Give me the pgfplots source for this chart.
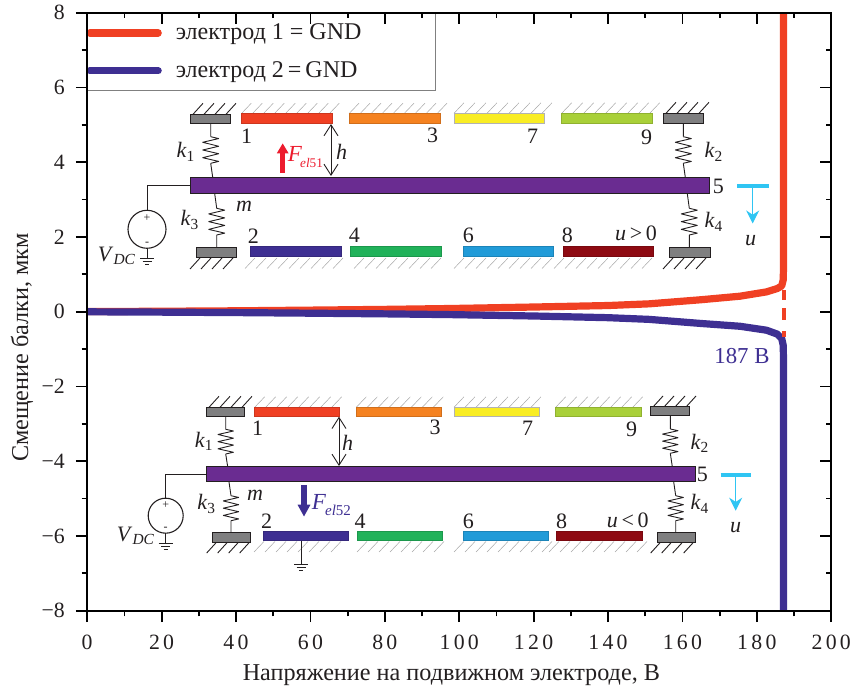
\documentclass[border=0pt]{standalone}
\usepackage{fontspec}
\setmainfont{Liberation Serif}
\usepackage{pgfplots}
\pgfplotsset{compat=1.18}
\usetikzlibrary{arrows.meta}
\definecolor{cred}{HTML}{F04023}
\definecolor{cblue}{HTML}{3E2F92}
\definecolor{cbeam}{HTML}{6A2C91}
\definecolor{corange}{HTML}{F58220}
\definecolor{cyellow}{HTML}{F9ED24}
\definecolor{clime}{HTML}{A9D039}
\definecolor{cgreen}{HTML}{21B25A}
\definecolor{csky}{HTML}{219BD8}
\definecolor{cdark}{HTML}{8E0A12}
\definecolor{cgray}{HTML}{7F7F80}
\definecolor{ccyan}{HTML}{2FC5F3}
\definecolor{ctxt}{HTML}{231F20}
\definecolor{cfred}{HTML}{ED1C2E}
\newcommand\lab[2]{\textit{#1}\textsubscript{#2}}
\newcommand\Fel[3]{{\fontsize{11.5}{13}\selectfont\textit{F}}\kern#2\raisebox{-.55ex}{\fontsize{#3}{8}\selectfont\textit{el}#1}}
% electrode: x0 x1 y0 y1 colour
\newcommand\elec[5]{\fill[#5,draw=#5!85!black,line width=.25pt] (#1,#3) rectangle (#2,#4);}
% light hatch
\newcommand\hatchup[3]{\foreach \q in {0,1,...,#3}{\draw[gray!70,line width=.25pt] ({#1+11*\q},#2) -- ({#1+11*\q+10},{#2-10.5});}}
\newcommand\blk[4]{\fill[cgray,draw=ctxt,line width=.5pt] (#1,#3) rectangle (#2,#4);}
\newcommand\blackhatch[3]{\foreach \q in {0,1,2,3}{\draw[ctxt,line width=.45pt] ({#1+11*\q},#2) -- ({#1+11*\q+10},{#2-11});}}
% spring: x y0 y1 amp
\newcommand\spring[4]{\draw[ctxt,line width=.45pt,line join=round]
 (#1,#2) -- ({#1+#4},{#2+(#3-#2)*0.07}) -- ({#1-#4},{#2+(#3-#2)*0.21}) -- ({#1+#4},{#2+(#3-#2)*0.36}) -- ({#1-#4},{#2+(#3-#2)*0.50}) -- ({#1+#4},{#2+(#3-#2)*0.64}) -- ({#1-#4},{#2+(#3-#2)*0.79}) -- ({#1+#4},{#2+(#3-#2)*0.93}) -- (#1,#3);}
\newcommand\gnd[2]{\draw[ctxt,line width=.45pt] ({#1-7},#2) -- ({#1+7},#2) ({#1-4.5},{#2+3.3}) -- ({#1+4.5},{#2+3.3}) ({#1-2},{#2+6.6}) -- ({#1+2},{#2+6.6});}
\newcommand\sz{\fontsize{11}{13}\selectfont}
\begin{document}
\begin{tikzpicture}
\path[use as bounding box] (0pt,0pt) rectangle (425pt,345pt);
\begin{axis}[
 at={(43.6pt,39.65pt)},anchor=south west,scale only axis,
 width=372pt,height=299pt,
 xmin=0,xmax=200,ymin=-8,ymax=8,
 xtick={0,20,...,200},
 xticklabels={0,20,40,60,80,100,120,140,160,180,200},
 ytick={-8,-6,...,8},
 yticklabels={−8,−6,−4,−2,0,2,4,6,8},
 minor x tick num=1,minor y tick num=1,
 tick align=outside,tick pos=left,
 major tick length=5.7pt,minor tick length=2.8pt,
 axis line style={line width=1pt},
 every tick/.style={line width=.9pt,black},
 minor tick style={line width=.9pt,black},
 tick label style={font=\fontsize{10.9}{12}\selectfont,text=ctxt},
 xticklabel style={font=\fontsize{10.9}{12}\selectfont\addfontfeatures{LetterSpace=15}},
 xticklabel shift=3pt,yticklabel shift=2pt,
 xlabel={Напряжение на подвижном электроде, В},
 ylabel={Смещение балки, мкм},
 label style={font=\fontsize{12.1}{14}\selectfont,text=ctxt},
 xlabel style={at={(axis description cs:0.4895,0)},anchor=base,yshift=-35pt},
 ylabel style={at={(axis description cs:0,0.44)},anchor=base,rotate=0,yshift=29.5pt},
 legend style={at={(0,1)},anchor=north west,draw=gray,line width=.4pt,fill=white,
   inner xsep=0pt,inner ysep=3.2pt,row sep=5.5pt,xshift=-.7pt,
   font=\fontsize{12}{14}\selectfont,text=ctxt},
 legend cell align=left,
 legend image code/.code={\draw[#1,line cap=round] (2pt,0pt) -- (36.2pt,0pt);},
]
\addplot[cred,line width=3.6pt,line join=round] coordinates {
 (0,0.003)(20,0.012)(40,0.024)(60,0.042)(80,0.062)(97.6,0.085)(120,0.125)(140,0.165)(151,0.21)(165,0.32)(175.5,0.415)(182.6,0.53)(185.5,0.62)(186.7,0.69)(187.1,0.85)(187.2,1.3)(187.2,8)};
\addlegendentry{\makebox[133pt][l]{\hspace*{5pt}электрод 1 = GND}}
\addplot[cblue,line width=3.6pt,line join=round] coordinates {
 (0,-0.003)(20,-0.012)(40,-0.024)(60,-0.04)(80,-0.058)(97.6,-0.078)(120,-0.115)(140,-0.16)(151,-0.205)(165,-0.315)(175.5,-0.39)(182.6,-0.495)(185.5,-0.6)(186.7,-0.72)(187.1,-0.9)(187.2,-1.4)(187.2,-8)};
\addlegendentry{\makebox[133pt][l]{\hspace*{5pt}электрод 2\,=\,GND}}
\addplot[cred,line width=2pt,dash pattern=on 5pt off 4pt on 6pt off 5.5pt on 3.5pt off 20pt,forget plot] coordinates {(187.2,0.58)(187.2,-0.68)};
\end{axis}
\begin{axis}[
 at={(43.6pt,39.65pt)},anchor=south west,scale only axis,
 width=372pt,height=299pt,
 xmin=0,xmax=200,ymin=-8,ymax=8,
 xtick={0,20,...,200},ytick={-8,-6,...,8},
 xticklabels={},yticklabels={},
 minor x tick num=1,minor y tick num=1,
 tick align=inside,tick pos=right,
 major tick length=5.7pt,minor tick length=2.8pt,
 axis line style={line width=1pt},
 every tick/.style={line width=.9pt,black},
 minor tick style={line width=.9pt,black},
]
\end{axis}
\begin{scope}[x=0.5pt,y=-0.5pt,yshift=345pt,every node/.style={font=\sz,text=ctxt,inner sep=0pt}]
%%%% upper schematic
\hatchup{241.3}{113.7}{8} \hatchup{349}{113.7}{8} \hatchup{454}{113.3}{8} \hatchup{561.7}{113.3}{8}
\hatchup{245}{268.5}{8} \hatchup{354}{268.5}{7} \hatchup{454}{268.5}{8} \hatchup{554}{268.5}{8}
\blackhatch{193}{114.3}{} \blackhatch{666}{113.3}{}
\blackhatch{190}{269}{} \blackhatch{663}{269}{}
\elec{241.3}{332}{113.7}{123.3}{cred}
\elec{349}{440}{113.7}{123.3}{corange}
\fill[cyellow,draw=gray!60,line width=.25pt] (454,113.3) rectangle (544.7,123.3);
\elec{561.7}{652.7}{113.3}{123.3}{clime}
\blk{190}{230.7}{114.3}{124} \blk{663}{703.3}{113.3}{123.3}
\elec{250.7}{341.3}{246.3}{256}{cblue}
\elec{350}{441}{246.3}{256}{cgreen}
\elec{463}{553.7}{246.3}{256}{csky}
\elec{563}{653.7}{246.3}{256}{cdark}
\blk{196.3}{236.7}{247.3}{257.3} \blk{669.3}{710}{247.7}{257.7}
\spring{210.7}{136.7}{163.3}{8}
\draw[ctxt,line width=.45pt] (210.7,124) -- (210.7,136.7) (210.7,163.3) -- (212.7,177.3);
\spring{216.7}{208.3}{235}{8}
\draw[ctxt,line width=.45pt] (214.7,193.7) -- (216.7,208.3) (216.7,235) -- (216.7,247.3);
\spring{683.3}{136.7}{163.3}{8}
\draw[ctxt,line width=.45pt] (683.3,123.3) -- (683.3,136.7) (683.3,163.3) -- (685.3,177.3);
\spring{689.3}{208.3}{235}{8}
\draw[ctxt,line width=.45pt] (687.3,193.7) -- (689.3,208.3) (689.3,235) -- (689.3,247.7);
\fill[cbeam,draw=ctxt,line width=.5pt] (190,177.3) rectangle (709.7,193.7);
\draw[ctxt,line width=.5pt] (190,185.7) -- (147,185.7) -- (147,210.7) (147,248.3) -- (147,258.3);
\draw[ctxt,line width=.55pt] (147,229.3) circle (19);
\node[font=\fontsize{6}{7}\selectfont] at (147,218) {+};
\node[font=\fontsize{6}{7}\selectfont] at (147,243.5) {-};
\gnd{147}{258.3}
\draw[ctxt,line width=.45pt,{Straight Barb[length=5.5pt,width=7pt]}-{Straight Barb[length=5.5pt,width=7pt]}] (331,124) -- (331,176);
\node at (341.7,151.7) {\textit{h}};
\draw[-{Triangle[length=5pt,width=5.5pt]},line width=2.5pt,cfred] (282.7,172.7) -- (282.7,143.3);
\node[anchor=west,text=cfred] at (287.5,157) {\Fel{51}{-1pt}{6.6}};
\node at (186,152) {\lab{k}{1}};
\node at (714,152) {\lab{k}{2}};
\node at (190,220) {\lab{k}{3}};
\node at (714,222) {\lab{k}{4}};
\node at (244,206.7) {\textit{m}};
\node at (117,256) {\textit{V}\textsubscript{\textit{DC}}};
\node at (246.7,136.7) {1}; \node at (432.7,135.5) {3}; \node at (532.7,136.7) {7}; \node at (646.7,137.3) {9};
\node at (718.3,186.7) {5};
\node at (253.3,236) {2}; \node at (354.3,235) {4}; \node at (468.3,235) {6}; \node at (567.3,235) {8};
\node at (636,233.3) {\textit{u}\,>\,0};
\draw[ccyan,line width=1.7pt] (737.3,186) -- (769.3,186);
\draw[ccyan,line width=.6pt,-{Stealth[length=6.5pt,width=6.5pt]}] (752.7,187) -- (752.7,223.5);
\node at (750.7,241) {\textit{u}};
%%%% lower schematic
\hatchup{254.7}{407.3}{7} \hatchup{356.3}{407.3}{7} \hatchup{454}{407.3}{7} \hatchup{555.7}{407.3}{7}
\hatchup{254}{552}{7} \hatchup{357}{552}{7} \hatchup{454}{552}{8} \hatchup{549}{552}{8}
\blackhatch{209}{407.3}{} \blackhatch{653}{407}{}
\blackhatch{206.7}{553}{} \blackhatch{650.7}{553}{}
\elec{254.7}{339.7}{407.3}{416}{cred}
\elec{356.3}{441.7}{407.3}{416}{corange}
\fill[cyellow,draw=gray!60,line width=.25pt] (454,407.3) rectangle (539.7,416);
\elec{555.7}{641}{407.3}{416}{clime}
\blk{206.7}{244.3}{407.3}{416.7} \blk{650.7}{689}{407}{416}
\elec{263.3}{348.3}{531.7}{540.7}{cblue}
\elec{357.3}{442.3}{531.7}{540.7}{cgreen}
\elec{463.3}{548.7}{531.7}{540.7}{csky}
\elec{556.7}{642}{531.7}{540.7}{cdark}
\blk{212.3}{250.3}{533}{542.3} \blk{657}{695}{533}{542.3}
\spring{225.7}{429.3}{454}{7.7}
\draw[ctxt,line width=.45pt] (225.7,416.7) -- (225.7,429.3) (225.7,454) -- (227.7,466.7);
\spring{231}{495.7}{520.7}{7.7}
\draw[ctxt,line width=.45pt] (229,482) -- (231,495.7) (231,520.7) -- (231,533);
\spring{670.3}{429}{453.3}{7.7}
\draw[ctxt,line width=.45pt] (670.3,416) -- (670.3,429) (670.3,453.3) -- (672.3,466.7);
\spring{675.7}{495.7}{520.7}{7.7}
\draw[ctxt,line width=.45pt] (673.7,482) -- (675.7,495.7) (675.7,520.7) -- (675.7,533);
\fill[cbeam,draw=ctxt,line width=.5pt] (206.7,466.7) rectangle (695,482);
\draw[ctxt,line width=.5pt] (206.7,474.7) -- (165.7,474.7) -- (165.7,498.3) (165.7,533) -- (165.7,543.3);
\draw[ctxt,line width=.55pt] (165.7,515.7) circle (17.5);
\node[font=\fontsize{6}{7}\selectfont] at (165.7,505) {+};
\node[font=\fontsize{6}{7}\selectfont] at (165.7,529) {-};
\gnd{165.7}{543.3}
\draw[ctxt,line width=.45pt] (301,540.7) -- (301,564.3);
\gnd{301}{564.3}
\draw[ctxt,line width=.45pt,{Straight Barb[length=5.5pt,width=7pt]}-{Straight Barb[length=5.5pt,width=7pt]}] (339,416.7) -- (339,466);
\node at (347.7,442.7) {\textit{h}};
\draw[-{Triangle[length=6pt,width=6pt]},line width=3.4pt,cblue] (304,485) -- (304,516.7);
\node[anchor=west,text=cblue] at (311.5,505) {\Fel{52}{-.5pt}{7.5}};
\node at (204.3,441.7) {\lab{k}{1}};
\node at (700,443.3) {\lab{k}{2}};
\node at (206.7,504) {\lab{k}{3}};
\node at (700,504) {\lab{k}{4}};
\node at (255,495) {\textit{m}};
\node at (136,536) {\textit{V}\textsubscript{\textit{DC}}};
\node at (257.7,428.3) {1}; \node at (435,427.3) {3}; \node at (527.7,428.3) {7}; \node at (631.7,429) {9};
\node at (702.3,474) {5};
\node at (266.7,521.7) {2}; \node at (360,521) {4}; \node at (468.3,521) {6}; \node at (561.7,521) {8};
\node at (627.7,520) {\textit{u}\,<\,0};
\draw[ccyan,line width=1.7pt] (720.7,475) -- (751,475);
\draw[ccyan,line width=.6pt,-{Stealth[length=6.5pt,width=6.5pt]}] (735.7,476) -- (735.7,510.7);
\node at (735.7,528) {\textit{u}};
\node[anchor=west,text=cblue,font=\fontsize{11.4}{13}\selectfont] at (714,356) {187 В};
\end{scope}
\end{tikzpicture}
\end{document}
